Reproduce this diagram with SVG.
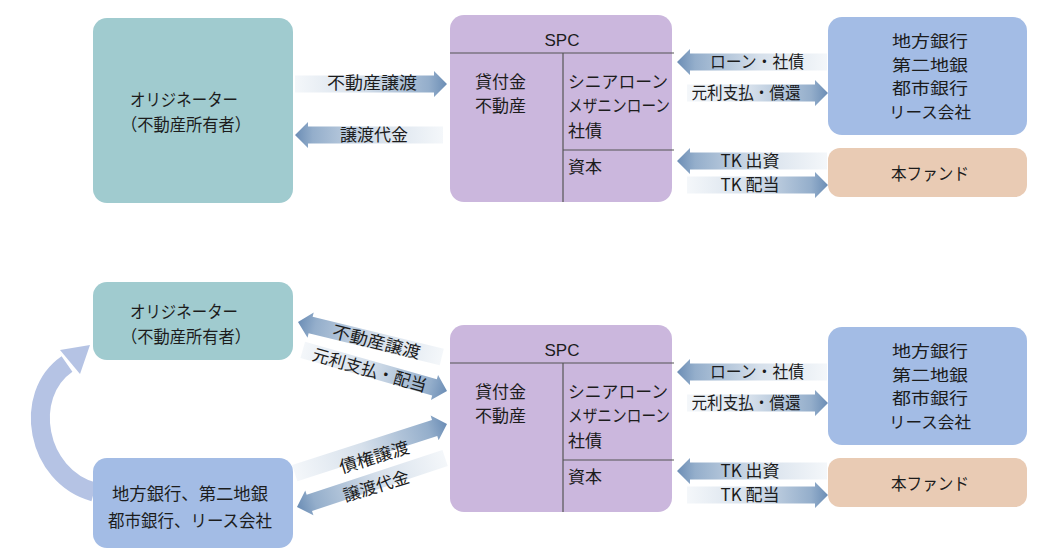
<svg xmlns="http://www.w3.org/2000/svg" width="1040" height="559" viewBox="0 0 1040 559">
<defs>
<style>
text{font-family:"Noto Sans CJK JP","Noto Sans",sans-serif;fill:#1c1c1c;}
.n{font-size:17px;}
.b{font-size:16px;}
.a{font-size:17px;}
.s{font-family:"Liberation Sans",Arial,sans-serif;font-size:17px;}
.m{text-anchor:middle;}
.orig{fill:#a0cbcf;}
.spc{fill:#cbb7dd;}
.bank{fill:#a3bce5;}
.fund{fill:#e9cbb4;}
.ln{stroke:#555;stroke-width:1.2;fill:none;}
.ar{fill:url(#gr);}
.al{fill:url(#gl);}
</style>
<linearGradient id="gr" x1="0" y1="0" x2="1" y2="0">
<stop offset="0" stop-color="#f4f7fa"/>
<stop offset="0.45" stop-color="#d6e0eb"/>
<stop offset="0.88" stop-color="#94aecb"/>
<stop offset="1" stop-color="#6b8db5"/>
</linearGradient>
<linearGradient id="gl" x1="1" y1="0" x2="0" y2="0">
<stop offset="0" stop-color="#f4f7fa"/>
<stop offset="0.45" stop-color="#d6e0eb"/>
<stop offset="0.88" stop-color="#94aecb"/>
<stop offset="1" stop-color="#6b8db5"/>
</linearGradient>
</defs>

<g id="connectors">
<!-- top -->
<path class="ar" d="M447 84 L434 71 L434 75.5 L295 75.5 L295 92.5 L434 92.5 L434 97 Z"/>
<path class="al" d="M295 135 L308 122 L308 126.5 L443 126.5 L443 143.5 L308 143.5 L308 148 Z"/>
<path class="al" d="M677 62 L690 49 L690 53.5 L827 53.5 L827 70.5 L690 70.5 L690 75 Z"/>
<path class="ar" d="M828 93 L815 80 L815 84.5 L687 84.5 L687 101.5 L815 101.5 L815 106 Z"/>
<path class="al" d="M677 161 L690 148 L690 152.5 L827 152.5 L827 169.5 L690 169.5 L690 174 Z"/>
<path class="ar" d="M828 185 L815 172 L815 176.5 L687 176.5 L687 193.5 L815 193.5 L815 198 Z"/>
<!-- bottom right -->
<path class="al" d="M677 372 L690 359 L690 363.5 L827 363.5 L827 380.5 L690 380.5 L690 385 Z"/>
<path class="ar" d="M828 403 L815 390 L815 394.5 L687 394.5 L687 411.5 L815 411.5 L815 416 Z"/>
<path class="al" d="M677 471 L690 458 L690 462.5 L827 462.5 L827 479.5 L690 479.5 L690 484 Z"/>
<path class="ar" d="M828 495 L815 482 L815 486.5 L687 486.5 L687 503.5 L815 503.5 L815 508 Z"/>
<!-- bottom diagonals (local: tip at origin, pointing +x) -->
<path class="ar" transform="translate(298 322) rotate(193.7)" d="M0 0 L-13 -13 L-13 -8.5 L-148 -8.5 L-148 8.5 L-13 8.5 L-13 13 Z"/>
<path class="ar" transform="translate(447 391) rotate(15.9)" d="M0 0 L-13 -13 L-13 -8.5 L-150 -8.5 L-150 8.5 L-13 8.5 L-13 13 Z"/>
<path class="ar" transform="translate(447 424) rotate(-17.9)" d="M0 0 L-13 -13 L-13 -8.5 L-160 -8.5 L-160 8.5 L-13 8.5 L-13 13 Z"/>
<path class="ar" transform="translate(297 507) rotate(161.7)" d="M0 0 L-13 -13 L-13 -8.5 L-156 -8.5 L-156 8.5 L-13 8.5 L-13 13 Z"/>
<!-- curved arrow -->
<path d="M94 492 C 36 476, 22 395, 67 364" fill="none" stroke="#b5c3e4" stroke-width="19"/>
<path d="M90 345 L60 350 L80 374 Z" fill="#b5c3e4"/>
<!-- labels -->
<text class="a m" x="372" y="89" textLength="90" lengthAdjust="spacingAndGlyphs">不動産譲渡</text>
<text class="a m" x="374" y="141" textLength="68" lengthAdjust="spacingAndGlyphs">譲渡代金</text>
<text class="a m" x="757" y="68" textLength="94" lengthAdjust="spacingAndGlyphs">ローン・社債</text>
<text class="a m" x="746" y="99" textLength="109" lengthAdjust="spacingAndGlyphs">元利支払・償還</text>
<text class="a m" x="750" y="167">TK 出資</text>
<text class="a m" x="750" y="191">TK 配当</text>
<text class="a m" x="757" y="378" textLength="94" lengthAdjust="spacingAndGlyphs">ローン・社債</text>
<text class="a m" x="746" y="409" textLength="109" lengthAdjust="spacingAndGlyphs">元利支払・償還</text>
<text class="a m" x="750" y="477">TK 出資</text>
<text class="a m" x="750" y="501">TK 配当</text>
<text class="a m" transform="translate(375 348) rotate(14)" textLength="90" lengthAdjust="spacingAndGlyphs">不動産譲渡</text>
<text class="a m" transform="translate(368 376) rotate(16)" textLength="118" lengthAdjust="spacingAndGlyphs">元利支払・配当</text>
<text class="a m" transform="translate(376 463) rotate(-17)" textLength="72" lengthAdjust="spacingAndGlyphs">債権譲渡</text>
<text class="a m" transform="translate(378 492) rotate(-17)" textLength="68" lengthAdjust="spacingAndGlyphs">譲渡代金</text>
</g>

<g id="originator-top">
<rect class="orig" x="93" y="18" width="200" height="185" rx="14"/>
<text class="n m" x="184" y="105.5" textLength="108" lengthAdjust="spacingAndGlyphs">オリジネーター</text>
<text class="n m" x="186" y="130.5" textLength="130" lengthAdjust="spacingAndGlyphs">（不動産所有者）</text>
</g>

<g id="spc-top">
<rect class="spc" x="450" y="15" width="222" height="187" rx="14"/>
<line class="ln" x1="450" y1="53" x2="674" y2="53"/>
<line class="ln" x1="563" y1="53" x2="563" y2="202"/>
<line class="ln" x1="563" y1="150" x2="674" y2="150"/>
<text class="s m" x="562" y="46">SPC</text>
<text class="n" x="475" y="87.5">貸付金</text>
<text class="n" x="475" y="111.5">不動産</text>
<text class="n" x="568" y="87.5" textLength="100" lengthAdjust="spacingAndGlyphs">シニアローン</text>
<text class="n" x="568" y="111.5" textLength="102" lengthAdjust="spacingAndGlyphs">メザニンローン</text>
<text class="n" x="568" y="137">社債</text>
<text class="n" x="568" y="173">資本</text>
</g>

<g id="banks-top">
<rect class="bank" x="828" y="17" width="199" height="118" rx="14"/>
<text class="b m" x="930" y="47" textLength="76" lengthAdjust="spacingAndGlyphs">地方銀行</text>
<text class="b m" x="930" y="70.5" textLength="76" lengthAdjust="spacingAndGlyphs">第二地銀</text>
<text class="b m" x="930" y="94" textLength="76" lengthAdjust="spacingAndGlyphs">都市銀行</text>
<text class="b m" x="930" y="117.5" textLength="82" lengthAdjust="spacingAndGlyphs">リース会社</text>
</g>

<g id="fund-top">
<rect class="fund" x="828" y="148" width="199" height="49" rx="12"/>
<text class="n m" x="930" y="179.5" textLength="78" lengthAdjust="spacingAndGlyphs">本ファンド</text>
</g>

<g id="originator-bottom">
<rect class="orig" x="93" y="282" width="200" height="78" rx="14"/>
<text class="n m" x="184" y="317.5" textLength="108" lengthAdjust="spacingAndGlyphs">オリジネーター</text>
<text class="n m" x="186" y="342.5" textLength="130" lengthAdjust="spacingAndGlyphs">（不動産所有者）</text>
</g>

<g id="banks-left-bottom">
<rect class="bank" x="93" y="458" width="200" height="90" rx="14"/>
<text class="n m" x="190" y="499.5" textLength="156" lengthAdjust="spacingAndGlyphs">地方銀行、第二地銀</text>
<text class="n m" x="190" y="526.5" textLength="164" lengthAdjust="spacingAndGlyphs">都市銀行、リース会社</text>
</g>

<g id="spc-bottom">
<rect class="spc" x="450" y="325" width="222" height="187" rx="14"/>
<line class="ln" x1="450" y1="363" x2="674" y2="363"/>
<line class="ln" x1="563" y1="363" x2="563" y2="512"/>
<line class="ln" x1="563" y1="460" x2="674" y2="460"/>
<text class="s m" x="562" y="356">SPC</text>
<text class="n" x="475" y="397.5">貸付金</text>
<text class="n" x="475" y="421.5">不動産</text>
<text class="n" x="568" y="397.5" textLength="100" lengthAdjust="spacingAndGlyphs">シニアローン</text>
<text class="n" x="568" y="421.5" textLength="102" lengthAdjust="spacingAndGlyphs">メザニンローン</text>
<text class="n" x="568" y="447">社債</text>
<text class="n" x="568" y="483">資本</text>
</g>

<g id="banks-bottom">
<rect class="bank" x="828" y="327" width="199" height="118" rx="14"/>
<text class="b m" x="930" y="357" textLength="76" lengthAdjust="spacingAndGlyphs">地方銀行</text>
<text class="b m" x="930" y="380.5" textLength="76" lengthAdjust="spacingAndGlyphs">第二地銀</text>
<text class="b m" x="930" y="404" textLength="76" lengthAdjust="spacingAndGlyphs">都市銀行</text>
<text class="b m" x="930" y="427.5" textLength="82" lengthAdjust="spacingAndGlyphs">リース会社</text>
</g>

<g id="fund-bottom">
<rect class="fund" x="828" y="458" width="199" height="49" rx="12"/>
<text class="n m" x="930" y="489.5" textLength="78" lengthAdjust="spacingAndGlyphs">本ファンド</text>
</g>
</svg>
